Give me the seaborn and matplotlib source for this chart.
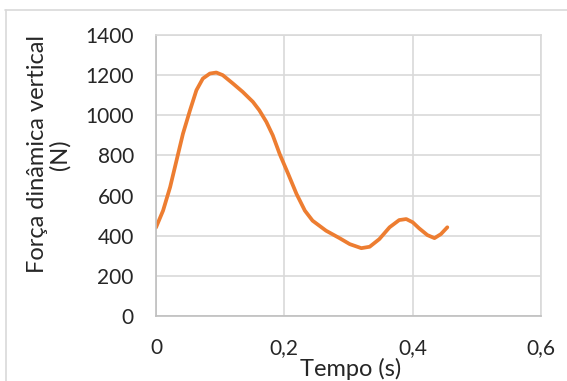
import matplotlib
matplotlib.use("Agg")
import matplotlib.pyplot as plt
from matplotlib.lines import Line2D
import seaborn as sns
import pandas as pd

# Vertical ground reaction force over time
tempo = [0.000, 0.011, 0.022, 0.032, 0.042, 0.053, 0.063, 0.073, 0.084, 0.094,
         0.104, 0.120, 0.135, 0.151, 0.161, 0.172, 0.182, 0.193, 0.206, 0.219,
         0.232, 0.244, 0.265, 0.286, 0.302, 0.320, 0.333, 0.348, 0.364, 0.379,
         0.390, 0.400, 0.410, 0.423, 0.434, 0.444, 0.454]
forca = [441, 525, 642, 775, 908, 1025, 1125, 1183, 1208, 1213,
         1200, 1158, 1117, 1067, 1025, 967, 900, 805, 708, 608,
         525, 475, 425, 388, 358, 338, 345, 383, 442, 478,
         483, 467, 437, 403, 388, 408, 442]

x_ticks = [0, 0.2, 0.4, 0.6]
x_tick_labels = ["0", "0,2", "0,4", "0,6"]
y_ticks = [0, 200, 400, 600, 800, 1000, 1200, 1400]
y_tick_labels = ["0", "200", "400", "600", "800", "1000", "1200", "1400"]

df = pd.DataFrame({"Tempo (s)": tempo, "Força": forca})

sns.set_theme(style="white")
plt.rcParams["font.family"] = ["Lato", "DejaVu Sans"]

fig = plt.figure(figsize=(5.67, 3.81), dpi=100)
ax = fig.add_axes([156 / 567, 1 - 316 / 381, (541 - 156) / 567, (316 - 35) / 381])

sns.lineplot(data=df, x="Tempo (s)", y="Força", ax=ax, color="#ED7D31",
             linewidth=2.7, solid_capstyle="round", solid_joinstyle="round")

ax.set_xlim(0, 0.6)
ax.set_ylim(0, 1400)
ax.set_xticks(x_ticks)
ax.set_xticklabels(x_tick_labels)
ax.set_yticks(y_ticks)
ax.set_yticklabels(y_tick_labels)
ax.tick_params(axis="both", labelsize=15, colors="#262626", length=0)
ax.tick_params(axis="y", pad=16)
ax.tick_params(axis="x", pad=16)

ax.grid(True, color="#D9D9D9", linewidth=1.2)
ax.set_axisbelow(True)
for side in ["top", "right"]:
    ax.spines[side].set_color("#D9D9D9")
    ax.spines[side].set_linewidth(1.2)
for side in ["left", "bottom"]:
    ax.spines[side].set_color("#BFBFBF")
    ax.spines[side].set_linewidth(1.2)

ax.set_xlabel("Tempo (s)", fontsize=17, color="#262626")
ax.xaxis.set_label_coords(0.505, -0.148)
ax.set_ylabel("Força dinâmica vertical\n(N)", fontsize=17, color="#262626",
              linespacing=1.05)
ax.yaxis.set_label_coords(-0.222, 0.575)

# chart area frame
fig.add_artist(Line2D([5 / 567, 1.0], [1 - 9.5 / 381, 1 - 9.5 / 381],
                      transform=fig.transFigure, color="#D9D9D9", linewidth=1.2))
fig.add_artist(Line2D([5.5 / 567, 5.5 / 567], [0.0, 1 - 9.5 / 381],
                      transform=fig.transFigure, color="#D9D9D9", linewidth=1.2))

fig.savefig("out.png", dpi=100)
